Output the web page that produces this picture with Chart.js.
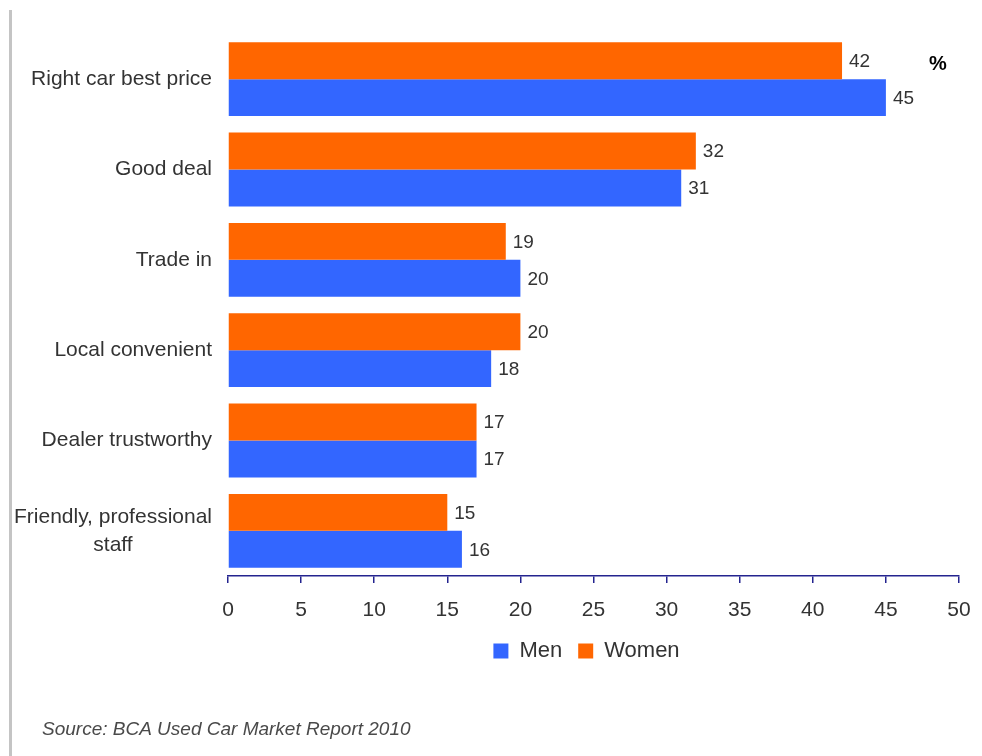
<!DOCTYPE html>
<html>
<head>
<meta charset="utf-8">
<script src="https://cdn.jsdelivr.net/npm/chart.js@4"></script>
<style>
  html, body { margin: 0; padding: 0; background: #fff; }
  #wrap { position: relative; width: 982px; height: 756px; }
</style>
</head>
<body>
<div id="wrap"><canvas id="chart"></canvas></div>
<script>
// reasons for choosing a dealer, % of buyers
const categories = [
  "Right car best price",
  "Good deal",
  "Trade in",
  "Local convenient",
  "Dealer trustworthy",
  ["Friendly, professional", "staff"]
];
const women = [42, 32, 19, 20, 17, 15];
const men = [45, 31, 20, 18, 17, 16];
const xTicks = [0, 5, 10, 15, 20, 25, 30, 35, 40, 45, 50];
const sourceNote = "Source: BCA Used Car Market Report 2010";

const FONT = "'Liberation Sans', Arial, Helvetica, sans-serif";
const TEXT = '#333333';
const AXIS = '#24248f';

Chart.defaults.font.family = FONT;
Chart.defaults.color = TEXT;

const extras = {
  id: 'extras',
  beforeDraw(chart) {
    const ctx = chart.ctx;
    ctx.save();
    // grey rule down the left edge
    ctx.fillStyle = '#c4c4c4';
    ctx.fillRect(9, 10, 3, chart.height - 10);
    ctx.restore();
  },
  afterDraw(chart) {
    const ctx = chart.ctx;
    const area = chart.chartArea;
    const yScale = chart.scales.y;
    ctx.save();

    // category labels, multi-line ones centred on their longest line
    ctx.font = '21px ' + FONT;
    ctx.fillStyle = TEXT;
    ctx.textBaseline = 'middle';
    const right = area.left - 16;
    categories.forEach((lab, i) => {
      const y = yScale.getPixelForValue(i);
      const lines = Array.isArray(lab) ? lab : [lab];
      if (lines.length === 1) {
        ctx.textAlign = 'right';
        ctx.fillText(lines[0], right, y);
      } else {
        const w = Math.max(...lines.map(l => ctx.measureText(l).width));
        const lh = 28;
        ctx.textAlign = 'center';
        lines.forEach((l, k) => {
          ctx.fillText(l, right - w / 2, y + (k - (lines.length - 1) / 2) * lh);
        });
      }
    });

    // value labels at the end of each bar
    ctx.font = '19px ' + FONT;
    ctx.textAlign = 'left';
    chart.data.datasets.forEach((ds, di) => {
      chart.getDatasetMeta(di).data.forEach((el, i) => {
        ctx.fillText(String(ds.data[i]), el.x + 7, el.y + 1);
      });
    });

    // unit marker
    ctx.font = 'bold 20px ' + FONT;
    ctx.fillStyle = '#000';
    ctx.fillText('%', 929, 64);

    // source line
    ctx.font = 'italic 19px ' + FONT;
    ctx.fillStyle = '#4a4a4a';
    ctx.fillText(sourceNote, 42, 730);
    ctx.restore();
  }
};

new Chart(document.getElementById('chart'), {
  type: 'bar',
  data: {
    labels: categories,
    datasets: [
      {
        label: 'Women',
        data: women,
        backgroundColor: '#FF6600',
        borderWidth: 0,
        categoryPercentage: 0.817,
        barPercentage: 1.0
      },
      {
        label: 'Men',
        data: men,
        backgroundColor: '#3366FF',
        borderWidth: 0,
        categoryPercentage: 0.817,
        barPercentage: 1.0
      }
    ]
  },
  options: {
    indexAxis: 'y',
    responsive: true,
    maintainAspectRatio: false,
    animation: false,
    layout: {
      autoPadding: false,
      padding: { top: 34, right: 23, left: 214, bottom: 84 }
    },
    scales: {
      x: {
        min: 0,
        max: 50,
        afterBuildTicks(scale) {
          scale.ticks = xTicks.map(v => ({ value: v }));
        },
        afterFit(scale) {
          scale.height = 48;
          // layout padding already leaves room for the end labels
          scale.paddingLeft = 0;
          scale.paddingRight = 0;
        },
        grid: {
          drawOnChartArea: false,
          drawTicks: true,
          tickLength: 7,
          color: AXIS,
          lineWidth: 1.5
        },
        border: { display: true, color: AXIS, width: 1.5 },
        ticks: { font: { size: 21 }, color: TEXT, padding: 15 }
      },
      y: {
        grid: { display: false },
        border: { display: false },
        ticks: { display: false },
        afterFit(scale) { scale.width = 14; }
      }
    },
    plugins: {
      legend: {
        position: 'bottom',
        reverse: true,
        labels: {
          boxWidth: 15,
          boxHeight: 15,
          padding: 16,
          font: { size: 22 },
          color: TEXT
        }
      },
      tooltip: { enabled: false }
    }
  },
  plugins: [extras]
});
</script>
</body>
</html>
